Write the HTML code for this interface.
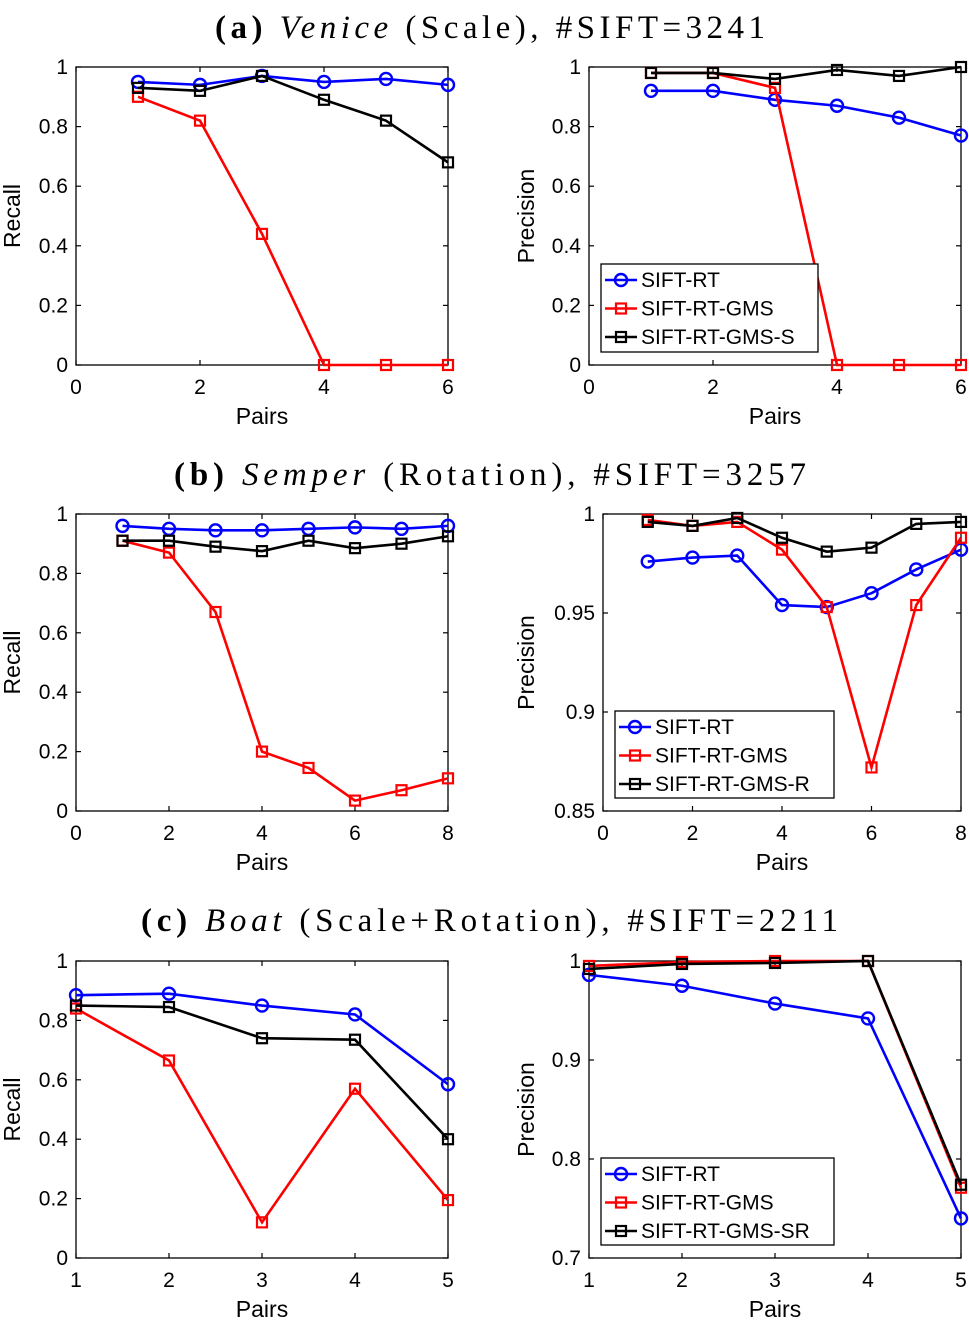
<!DOCTYPE html>
<html><head><meta charset="utf-8"><style>
html,body{margin:0;padding:0;background:#fff;}
svg{display:block;font-family:"Liberation Sans",sans-serif;}
.ttl{font-family:"Liberation Serif",serif;font-size:33px;}
</style></head><body>
<svg id="fig" width="969" height="1324" viewBox="0 0 969 1324" xmlns="http://www.w3.org/2000/svg">
<text class="ttl" x="215" y="38" textLength="550" lengthAdjust="spacing"><tspan font-weight="bold">(a)</tspan> <tspan font-style="italic">Venice</tspan> (Scale), #SIFT=3241</text>
<text class="ttl" x="174" y="485" textLength="632" lengthAdjust="spacing"><tspan font-weight="bold">(b)</tspan> <tspan font-style="italic">Semper</tspan> (Rotation), #SIFT=3257</text>
<text class="ttl" x="141" y="931" textLength="697" lengthAdjust="spacing"><tspan font-weight="bold">(c)</tspan> <tspan font-style="italic">Boat</tspan> (Scale+Rotation), #SIFT=2211</text>
</svg>
<script>
// Panel (a)
const aX = [1,2,3,4,5,6];
const aRecallRT = [0.95,0.94,0.97,0.95,0.96,0.94];
const aRecallGMS = [0.90,0.82,0.44,0,0,0];
const aRecallGMSS = [0.93,0.92,0.97,0.89,0.82,0.68];
const aPrecRT = [0.92,0.92,0.89,0.87,0.83,0.77];
const aPrecGMS = [0.98,0.98,0.93,0,0,0];
const aPrecGMSS = [0.98,0.98,0.96,0.99,0.97,1.0];
const aXTicks = [0,2,4,6];
const aYTicks = [0,0.2,0.4,0.6,0.8,1];
const aYTickLabels = ["0","0.2","0.4","0.6","0.8","1"];
// Panel (b)
const bX = [1,2,3,4,5,6,7,8];
const bRecallRT = [0.96,0.95,0.945,0.945,0.95,0.955,0.95,0.96];
const bRecallGMS = [0.91,0.87,0.67,0.2,0.145,0.035,0.07,0.11];
const bRecallGMSR = [0.91,0.91,0.89,0.875,0.91,0.885,0.90,0.925];
const bPrecRT = [0.976,0.978,0.979,0.954,0.953,0.960,0.972,0.982];
const bPrecGMS = [0.997,0.994,0.996,0.982,0.953,0.872,0.954,0.988];
const bPrecGMSR = [0.996,0.994,0.998,0.988,0.981,0.983,0.995,0.996];
const bXTicks = [0,2,4,6,8];
const bPYTicks = [0.85,0.9,0.95,1];
const bPYTickLabels = ["0.85","0.9","0.95","1"];
// Panel (c)
const cX = [1,2,3,4,5];
const cRecallRT = [0.885,0.89,0.85,0.82,0.585];
const cRecallGMS = [0.84,0.665,0.12,0.57,0.195];
const cRecallGMSSR = [0.85,0.845,0.74,0.735,0.40];
const cPrecRT = [0.986,0.975,0.957,0.942,0.74];
const cPrecGMS = [0.995,0.999,1.0,1.0,0.771];
const cPrecGMSSR = [0.992,0.997,0.998,1.0,0.774];
const cXTicks = [1,2,3,4,5];
const cPYTicks = [0.7,0.8,0.9,1];
const cPYTickLabels = ["0.7","0.8","0.9","1"];

const NS="http://www.w3.org/2000/svg";
const svg=document.getElementById('fig');
function mk(tag,attrs,parent){const e=document.createElementNS(NS,tag);for(const k in attrs)e.setAttribute(k,attrs[k]);(parent||svg).appendChild(e);return e;}

function panel(o){
  const g=mk('g',{});
  
  
  const sx=v=>o.x0+(v-o.xmin)/(o.xmax-o.xmin)*(o.x1-o.x0);
  const sy=v=>o.y1-(v-o.ymin)/(o.ymax-o.ymin)*(o.y1-o.y0);
  const box=mk('rect',{x:o.x0,y:o.y0,width:o.x1-o.x0,height:o.y1-o.y0,fill:'none',stroke:'#000','stroke-width':1.3},g);
  
  
  o.xt.forEach(v=>{
    const X=sx(v);
    mk('line',{x1:X,x2:X,y1:o.y1,y2:o.y1-5,stroke:'#000','stroke-width':1.2},g);
    mk('line',{x1:X,x2:X,y1:o.y0,y2:o.y0+5,stroke:'#000','stroke-width':1.2},g);
    const t=mk('text',{x:X,y:o.y1+29,'text-anchor':'middle','font-size':21},g);t.textContent=String(v);
    
    
  });
  o.yt.forEach((v,i)=>{
    const Y=sy(v);
    mk('line',{x1:o.x0,x2:o.x0+5,y1:Y,y2:Y,stroke:'#000','stroke-width':1.2},g);
    mk('line',{x1:o.x1,x2:o.x1-5,y1:Y,y2:Y,stroke:'#000','stroke-width':1.2},g);
    const t=mk('text',{x:o.x0-8,y:Y+7,'text-anchor':'end','font-size':21},g);t.textContent=o.ytl[i];
    
    
  });
  const xl=mk('text',{x:(o.x0+o.x1)/2+(o.xlOff||0),y:o.y1+59,'text-anchor':'middle','font-size':23},g);xl.textContent='Pairs';
  
  
  const ylx=o.ylx, yly=(o.y0+o.y1)/2;
  const yl=mk('text',{x:ylx,y:yly,'text-anchor':'middle','font-size':23,transform:`rotate(-90 ${ylx} ${yly})`},g);yl.textContent=o.ylabel;
  
  
  o.series.forEach(s=>{
    const pts=o.xs.map((x,i)=>sx(x)+','+sy(s.v[i])).join(' ');
    const pl=mk('polyline',{points:pts,fill:'none',stroke:s.c,'stroke-width':2.6},g);
    
    
    o.xs.forEach((x,i)=>{
      const m=marker(g,sx(x),sy(s.v[i]),s);
      
      
    });
  });
  if(o.leg){
    const L=o.leg;
    const lg=mk('g',{},g);
    
    
    mk('rect',{x:L.x,y:L.y,width:L.w,height:L.h,fill:'#fff',stroke:'#000','stroke-width':1.3},lg);
    o.series.forEach((s,i)=>{
      const Y=L.y+16+i*28.5;
      const e=mk('g',{},lg);
      
      
      mk('line',{x1:L.x+4,x2:L.x+36,y1:Y,y2:Y,stroke:s.c,'stroke-width':2.6},e);
      marker(e,L.x+20,Y,s);
      const t=mk('text',{x:L.x+40,y:Y+7,'font-size':21},e);t.textContent=s.label;
    });
  }
}
function marker(g,x,y,s){
  if(s.m==='o') return mk('circle',{cx:x,cy:y,r:6,fill:'none',stroke:s.c,'stroke-width':2.4},g);
  return mk('rect',{x:x-5,y:y-5,width:10,height:10,fill:'none',stroke:s.c,'stroke-width':2.2},g);
}
const B='#0000ff',R='#ff0000',K='#000000';
const ry=[0,0.2,0.4,0.6,0.8,1], ryl=["0","0.2","0.4","0.6","0.8","1"];
// (a)
panel({name:'panel-a-recall',x0:76,x1:448,y0:67,y1:365,xmin:0,xmax:6,ymin:0,ymax:1,xt:aXTicks,yt:aYTicks,ytl:aYTickLabels,ylabel:'Recall',ylx:20,xs:aX,
 series:[{n:'sift-rt',label:'SIFT-RT',c:B,m:'o',v:aRecallRT},{n:'sift-rt-gms',label:'SIFT-RT-GMS',c:R,m:'s',v:aRecallGMS},{n:'sift-rt-gms-s',label:'SIFT-RT-GMS-S',c:K,m:'s',v:aRecallGMSS}]});
panel({name:'panel-a-precision',x0:589,x1:961,y0:67,y1:365,xmin:0,xmax:6,ymin:0,ymax:1,xt:aXTicks,yt:aYTicks,ytl:aYTickLabels,ylabel:'Precision',ylx:534,xs:aX,
 leg:{x:601,y:264,w:217,h:88},
 series:[{n:'sift-rt',label:'SIFT-RT',c:B,m:'o',v:aPrecRT},{n:'sift-rt-gms',label:'SIFT-RT-GMS',c:R,m:'s',v:aPrecGMS},{n:'sift-rt-gms-s',label:'SIFT-RT-GMS-S',c:K,m:'s',v:aPrecGMSS}]});
// (b)
panel({name:'panel-b-recall',x0:76,x1:448,y0:514,y1:811,xmin:0,xmax:8,ymin:0,ymax:1,xt:bXTicks,yt:ry,ytl:ryl,ylabel:'Recall',ylx:20,xs:bX,
 series:[{n:'sift-rt',label:'SIFT-RT',c:B,m:'o',v:bRecallRT},{n:'sift-rt-gms',label:'SIFT-RT-GMS',c:R,m:'s',v:bRecallGMS},{n:'sift-rt-gms-r',label:'SIFT-RT-GMS-R',c:K,m:'s',v:bRecallGMSR}]});
panel({name:'panel-b-precision',x0:603,x1:961,y0:514,y1:811,xmin:0,xmax:8,ymin:0.85,ymax:1,xt:bXTicks,yt:bPYTicks,ytl:bPYTickLabels,ylabel:'Precision',ylx:534,xs:bX,
 leg:{x:615,y:711,w:219,h:87},
 series:[{n:'sift-rt',label:'SIFT-RT',c:B,m:'o',v:bPrecRT},{n:'sift-rt-gms',label:'SIFT-RT-GMS',c:R,m:'s',v:bPrecGMS},{n:'sift-rt-gms-r',label:'SIFT-RT-GMS-R',c:K,m:'s',v:bPrecGMSR}]});
// (c)
panel({name:'panel-c-recall',x0:76,x1:448,y0:961,y1:1258,xmin:1,xmax:5,ymin:0,ymax:1,xt:cXTicks,yt:ry,ytl:ryl,ylabel:'Recall',ylx:20,xs:cX,
 series:[{n:'sift-rt',label:'SIFT-RT',c:B,m:'o',v:cRecallRT},{n:'sift-rt-gms',label:'SIFT-RT-GMS',c:R,m:'s',v:cRecallGMS},{n:'sift-rt-gms-sr',label:'SIFT-RT-GMS-SR',c:K,m:'s',v:cRecallGMSSR}]});
panel({name:'panel-c-precision',x0:589,x1:961,y0:961,y1:1258,xmin:1,xmax:5,ymin:0.7,ymax:1,xt:cXTicks,yt:cPYTicks,ytl:cPYTickLabels,ylabel:'Precision',ylx:534,xs:cX,
 leg:{x:601,y:1158,w:233,h:87},
 series:[{n:'sift-rt',label:'SIFT-RT',c:B,m:'o',v:cPrecRT},{n:'sift-rt-gms',label:'SIFT-RT-GMS',c:R,m:'s',v:cPrecGMS},{n:'sift-rt-gms-sr',label:'SIFT-RT-GMS-SR',c:K,m:'s',v:cPrecGMSSR}]});
</script>
</body></html>
